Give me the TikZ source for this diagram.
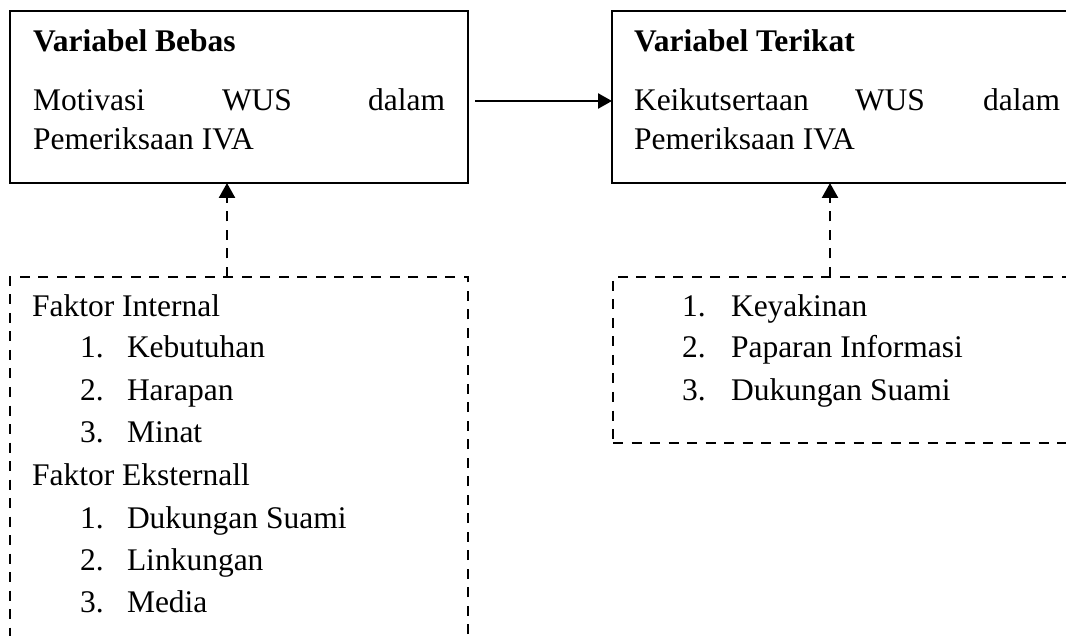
\documentclass[tikz,border=0pt]{standalone}
\usepackage{fontspec}
\setmainfont{Liberation Serif}
\usetikzlibrary{arrows.meta,calc}
\begin{document}
\begin{tikzpicture}[x=1pt,y=-1pt,
  every node/.style={inner sep=0pt,outer sep=0pt,font=\fontsize{31.5}{38}\selectfont},
  solidbox/.style={draw,line width=2.5pt,rectangle},
  dashbox/.style={draw,line width=2.5pt,dash pattern=on 10pt off 8.5pt,rectangle},
  txt/.style={anchor=base west},
  txtr/.style={anchor=base east},
  ttl/.style={anchor=base west,font=\fontsize{31.5}{38}\selectfont\bfseries},
  arr/.style={line width=2.5pt,-{Triangle[length=14pt,width=15pt]}},
  darr/.style={line width=2.5pt,dash pattern=on 10pt off 8.5pt,-{Triangle[length=15pt,width=16pt]}}]
\useasboundingbox (0,0) rectangle (1066,636);
\clip (0,0) rectangle (1066,636);
% solid boxes
\node[solidbox,minimum width=458pt,minimum height=172pt,anchor=north west] (bebas) at (10,11) {};
\node[solidbox,minimum width=470pt,minimum height=172pt,anchor=north west] (terikat) at (612,11) {};
% dashed boxes
\node[dashbox,minimum width=458pt,minimum height=380pt,anchor=north west] (internal) at (10,277) {};
\node[dashbox,minimum width=470pt,minimum height=166pt,anchor=north west] (faktor) at (613,277) {};
% texts left box
\node[ttl] (t1) at (33,52) {Variabel Bebas};
\node[txt] (m1) at (33,111) {Motivasi};
\node[txt] (m2) at (222,111) {WUS};
\node[txtr] (m3) at (445,111) {dalam};
\node[txt] (m4) at (33,150) {Pemeriksaan IVA};
% texts right box
\node[ttl] (t2) at (634,52) {Variabel Terikat};
\node[txt] (k1) at (634,111) {Keikutsertaan};
\node[txt] (k2) at (855,111) {WUS};
\node[txtr] (k3) at (1060,111) {dalam};
\node[txt] (k4) at (634,150) {Pemeriksaan IVA};
% left dashed list
\node[txt] (fi) at (32,317) {Faktor Internal};
\node[txt] (n1) at (80,358) {1.};
\node[txt] (i1) at (127,358) {Kebutuhan};
\node[txt] (n2) at (80,400) {2.};
\node[txt] (i2) at (127,400) {Harapan};
\node[txt] (n3) at (80,442) {3.};
\node[txt] (i3) at (127,442) {Minat};
\node[txt] (fe) at (32,485) {Faktor Eksternall};
\node[txt] (n4) at (80,528) {1.};
\node[txt] (e1) at (127,528) {Dukungan Suami};
\node[txt] (n5) at (80,570) {2.};
\node[txt] (e2) at (127,570) {Linkungan};
\node[txt] (n6) at (80,612) {3.};
\node[txt] (e3) at (127,612) {Media};
% right dashed list
\node[txt] (r1) at (682,317) {1.};
\node[txt] (s1) at (731,317) {Keyakinan};
\node[txt] (r2) at (682,358) {2.};
\node[txt] (s2) at (731,358) {Paparan Informasi};
\node[txt] (r3) at (682,400) {3.};
\node[txt] (s3) at (731,400) {Dukungan Suami};
% connectors
\coordinate (ay) at (0,101);
\draw[arr] (bebas.east |- ay) ++(7,0) -- (terikat.west |- ay);
\coordinate (lx) at (227,0);
\coordinate (rx) at (830,0);
\draw[darr] (internal.north -| lx) -- (bebas.south -| lx);
\draw[darr] (faktor.north -| rx) -- (terikat.south -| rx);
\end{tikzpicture}
\end{document}
